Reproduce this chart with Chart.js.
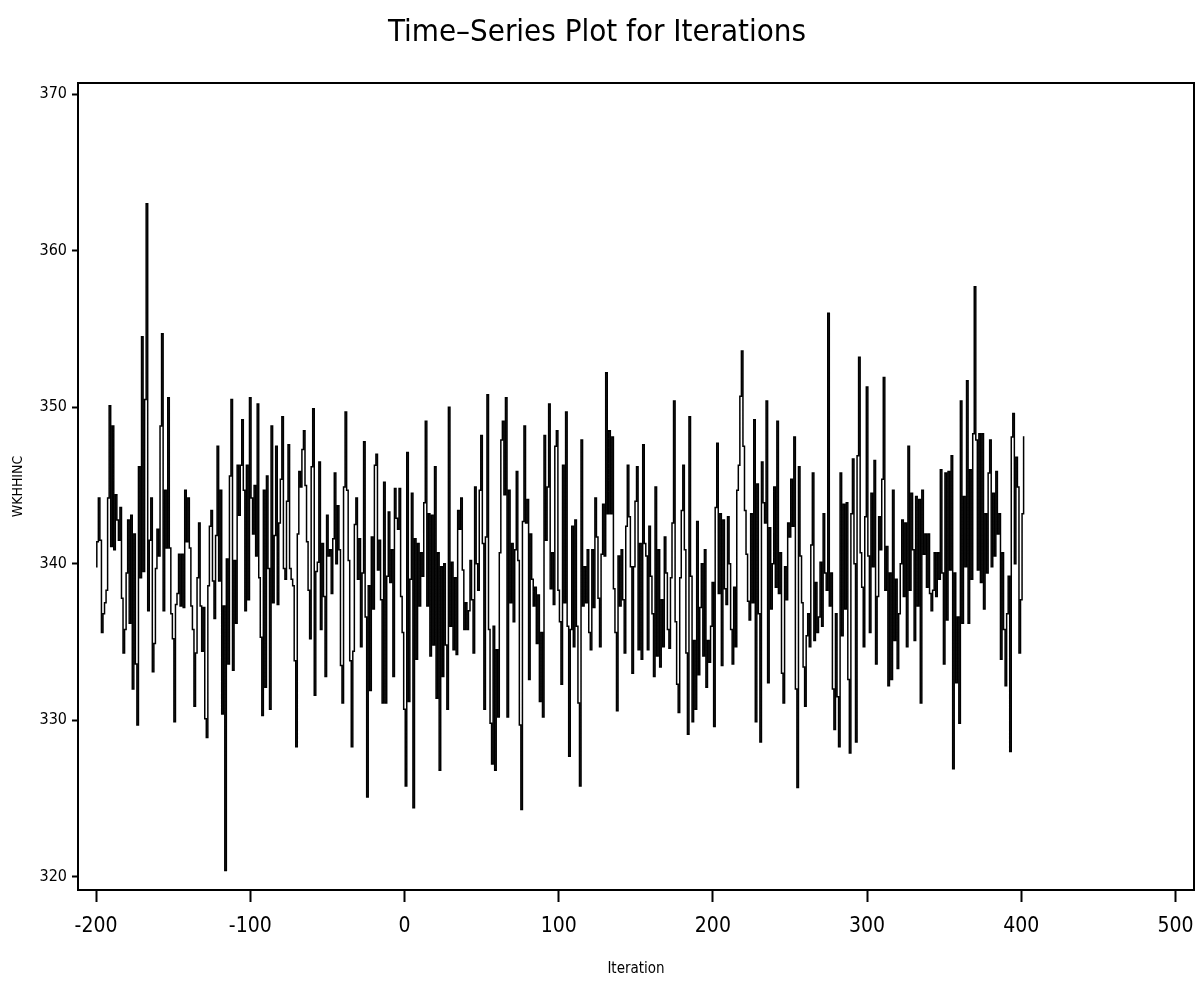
<!DOCTYPE html>
<html><head><meta charset="utf-8">
<script src="https://cdn.jsdelivr.net/npm/chart.js@4.4.1/dist/chart.umd.min.js"></script>
<style>html,body{margin:0;padding:0;background:#fff;}canvas{display:block;}</style>
</head><body>
<canvas id="c" width="1195" height="987"></canvas>
<script>
const chartTitle = 'Time\u2013Series Plot for Iterations';
const xAxisTitle = 'Iteration';
const yAxisTitle = 'WKHHINC';
const firstIteration = -200;
const xTickValues = [-200, -100, 0, 100, 200, 300, 400, 500];
const yTickValues = [320, 330, 340, 350, 360, 370];

// WKHHINC draws, iterations -200 .. -84
const wkhhincA = [
339.8,341.4,344.2,341.5,335.6,336.8,337.5,338.3,344.2,350.1,
341.1,348.8,340.9,344.4,342.8,341.5,343.6,337.8,334.3,335.8,
339.4,342.8,336.2,343.1,332.0,341.9,333.6,329.7,346.2,339.1,
354.5,339.5,350.5,363.0,337.0,341.5,344.2,333.1,334.9,339.7,
342.2,340.5,348.8,354.7,337.0,344.7,341.0,350.6,341.0,336.8,
335.2,329.9,337.4,338.1,340.6,337.3,340.6,337.2,344.7,341.4,
344.2,341.0,337.3,335.8,330.9,334.3,339.1,342.6,337.3,334.4,
337.2,330.1,328.9,338.6,342.4,343.4,338.9,336.5,341.8,347.5,
338.9,344.7,330.4,337.3,320.4,340.3,333.6,345.6,350.5,333.2,
340.2,336.2,346.3,343.1,346.3,349.2,344.7,337.0,346.3,337.7,
350.6,344.2,341.9,345.0,340.5,350.2,339.1,335.3,330.3,344.7,
332.1,345.6,339.7,330.7,348.8,337.5,341.8];
// iterations -83 .. 40
const wkhhincB = [
347.5,337.4,342.6,345.4,349.4,339.7,339.0,344.0,347.6,339.7,
339.0,338.6,333.8,328.3,341.9,345.9,344.9,347.3,348.5,345.0,
341.4,338.3,335.2,346.2,349.9,331.6,339.5,340.1,346.5,335.8,
341.3,337.9,332.8,343.1,340.5,340.9,338.1,341.6,345.8,340.0,
343.7,340.9,333.5,331.1,344.9,349.7,344.7,340.2,333.8,328.3,
334.4,342.5,344.2,339.0,341.6,334.7,339.4,347.8,336.6,325.1,
338.6,331.9,341.7,337.1,346.3,347.0,339.6,341.5,337.7,331.1,
345.2,331.1,339.2,343.3,338.8,340.9,332.8,344.8,342.9,342.2,
344.8,337.9,335.6,330.7,325.8,347.1,331.2,339.0,344.5,324.4,
341.6,333.9,341.3,337.3,340.7,339.2,343.9,349.1,337.3,343.2,
334.1,343.1,334.8,346.2,331.4,340.7,326.8,339.8,332.8,340.0,
334.8,330.7,350.0,336.0,340.1,334.5,339.1,334.2,343.4,342.2,
344.2,339.6,335.8,337.5];
// iterations 41 .. 165
const wkhhincC = [
335.8,337.0,340.2,337.7,334.3,344.9,340.0,338.3,344.7,348.2,
341.3,330.7,341.7,350.8,335.8,329.8,327.2,336.0,326.8,334.5,
330.2,340.7,347.9,349.1,344.4,350.6,330.2,344.7,337.5,341.3,
336.3,340.9,345.9,340.2,329.7,324.3,342.7,348.8,342.6,344.1,
332.6,341.9,339.0,337.3,338.5,334.9,338.0,331.2,335.6,330.2,
348.2,341.5,344.9,350.2,338.4,340.7,337.4,347.5,348.5,338.3,
336.3,332.3,346.3,337.5,349.7,336.0,327.7,335.8,342.4,334.7,
342.8,336.0,331.1,325.8,347.9,337.3,339.8,337.5,340.9,335.6,
334.5,340.9,337.2,344.2,341.7,337.8,334.7,340.6,343.8,340.5,
352.2,343.2,348.5,343.2,348.1,338.4,335.6,330.6,340.5,337.3,
340.9,337.7,334.3,342.4,346.3,343.0,339.8,333.0,339.8,344.0,
346.2,334.5,341.3,333.9,347.6,341.3,340.5,334.5,342.4,339.2,
336.8,332.8,344.9,334.1,340.9];
// iterations 166 .. 286
const wkhhincD = [
333.4,337.7,334.7,341.7,339.4,335.8,334.6,339.1,342.6,350.4,
336.3,332.3,330.5,339.1,343.4,346.3,340.9,334.3,329.1,349.4,
339.2,329.9,335.1,330.7,342.7,332.9,337.2,340.0,334.1,340.9,
332.1,335.1,333.7,336.0,338.8,329.6,343.6,347.7,338.1,343.2,
333.5,342.8,338.4,337.4,343.0,340.0,335.8,333.6,338.5,334.7,
344.7,346.3,350.7,353.6,347.5,343.4,340.6,337.6,336.4,343.2,
337.5,349.2,329.9,345.1,336.8,328.6,346.5,343.9,342.6,350.4,
332.4,342.3,337.1,340.0,344.9,338.5,349.1,338.1,340.7,333.0,
331.1,339.8,337.7,342.6,341.7,345.4,342.4,348.1,332.0,325.7,
346.2,340.5,337.5,333.4,330.9,335.4,336.8,334.7,341.2,345.8,
335.1,338.8,335.6,336.6,340.1,336.0,343.2,339.4,338.3,356.0,
337.3,339.4,332.0,329.4,336.8,331.5,328.3,345.8,335.4,343.8,
337.1];
// iterations 287 .. 402
const wkhhincE = [
343.9,332.6,327.9,343.2,346.7,340.0,328.6,346.9,353.2,340.7,
338.5,334.7,343.0,351.3,340.5,335.6,344.5,339.8,346.6,333.6,
337.9,343.0,340.9,345.4,351.9,338.3,341.1,332.2,339.4,332.6,
344.7,335.1,339.0,333.3,336.8,340.0,342.8,337.9,342.6,334.7,
347.5,338.3,344.5,340.9,335.1,344.3,337.3,344.1,331.1,344.7,
340.6,341.9,338.5,341.9,338.1,337.0,338.3,340.7,337.9,340.7,
339.0,346.0,339.4,333.6,345.8,336.4,345.9,339.6,346.9,326.9,
339.4,332.4,336.6,329.8,350.4,336.2,344.3,339.8,351.7,336.2,
346.0,339.0,348.3,357.7,347.9,339.6,348.3,338.8,348.3,337.1,
343.2,339.4,345.8,347.9,339.8,344.5,340.5,345.9,341.9,343.2,
333.9,340.7,335.8,332.2,336.8,339.2,328.0,348.1,349.6,340.0,
346.8,344.9,334.3,337.7,343.2,348.1];

const wkhhinc = [].concat(wkhhincA, wkhhincB, wkhhincC, wkhhincD, wkhhincE);
const series = wkhhinc.map((v, i) => ({ x: firstIteration + i, y: v }));

const narrow = "'DejaVu Sans Condensed', 'Liberation Sans', sans-serif";

const framePlugin = {
  id: 'frame',
  beforeDraw(chart) {
    const { ctx } = chart;
    ctx.save();
    ctx.fillStyle = '#fff';
    ctx.fillRect(0, 0, chart.width, chart.height);
    ctx.restore();
  },
  afterDraw(chart) {
    const { ctx, chartArea: a } = chart;
    ctx.save();
    ctx.strokeStyle = '#000';
    ctx.lineWidth = 2;
    ctx.strokeRect(a.left, a.top, a.right - a.left, a.bottom - a.top);
    ctx.restore();
  }
};

new Chart(document.getElementById('c'), {
  type: 'line',
  data: {
    datasets: [{
      label: yAxisTitle,
      data: series,
      borderColor: '#000',
      borderWidth: 1.5,
      pointRadius: 0,
      tension: 0,
      stepped: 'middle',
      fill: false
    }]
  },
  options: {
    responsive: false,
    devicePixelRatio: 1,
    animation: false,
    layout: { padding: { left: 0, right: 1, top: 0, bottom: 0 } },
    plugins: {
      legend: { display: false },
      tooltip: { enabled: false },
      title: {
        display: true,
        text: chartTitle,
        color: '#000',
        font: { family: narrow, size: 31, weight: 'normal', lineHeight: 1.2 },
        padding: { top: 14, bottom: 31.8 }
      }
    },
    scales: {
      x: {
        type: 'linear',
        min: -211.7,
        max: 512,
        afterBuildTicks: (axis) => { axis.ticks = xTickValues.map(v => ({ value: v })); },
        afterFit: (axis) => { axis.height = 97; axis.paddingLeft = 0; axis.paddingRight = 0; },
        border: { display: false },
        grid: { display: true, drawOnChartArea: false, drawTicks: true, tickLength: 12, tickWidth: 2, tickColor: '#000' },
        ticks: { color: '#000', font: { family: narrow, size: 21 }, padding: 12, autoSkip: false, maxRotation: 0 },
        title: { display: true, text: xAxisTitle, color: '#000', font: { family: narrow, size: 15 }, padding: { top: 0, bottom: 9 } }
      },
      y: {
        type: 'linear',
        min: 319.15,
        max: 370.72,
        afterBuildTicks: (axis) => { axis.ticks = yTickValues.map(v => ({ value: v })); },
        afterFit: (axis) => { axis.width = 78; axis.paddingTop = 0; axis.paddingBottom = 0; },
        border: { display: false },
        grid: { display: true, drawOnChartArea: false, drawTicks: true, tickLength: 6, tickWidth: 2, tickColor: '#000' },
        ticks: { color: '#000', font: { family: narrow, size: 16 }, padding: 5, autoSkip: false },
        title: { display: true, text: yAxisTitle, color: '#000', font: { family: narrow, size: 14 }, padding: { top: 10, bottom: 0 } }
      }
    }
  },
  plugins: [framePlugin]
});
</script>
</body></html>
